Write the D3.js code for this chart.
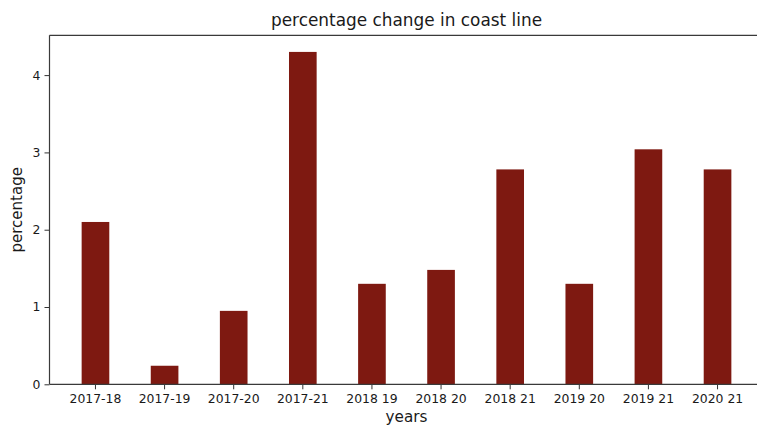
<!DOCTYPE html>
<html>
<head>
<meta charset="utf-8">
<script src="https://cdn.jsdelivr.net/npm/d3@7"></script>
<style>
  html, body { margin: 0; padding: 0; background: #ffffff; }
  svg { display: block; }
  text { font-family: "DejaVu Sans", sans-serif; fill: #1a1a1a; }
</style>
</head>
<body>
<div id="chart"></div>
<script>
// Percentage change in coast line between pairs of years
const years = ["2017-18", "2017-19", "2017-20", "2017-21", "2018 19",
               "2018 20", "2018 21", "2019 20", "2019 21", "2020 21"];
const percentages = [2.10, 0.24, 0.95, 4.30, 1.30, 1.48, 2.78, 1.30, 3.04, 2.78];
const yTicks = [0, 1, 2, 3, 4];

const width = 757, height = 427;
const plot = { left: 49.5, right: 763.5, top: 35.3, bottom: 384.3 };

const svg = d3.select("#chart").append("svg")
  .attr("width", width)
  .attr("height", height);

// bands: bar width is 0.4 of the category step
const x = d3.scaleBand()
  .domain(years)
  .range([plot.left, plot.right])
  .paddingInner(0.6)
  .paddingOuter(0.465);

const y = d3.scaleLinear()
  .domain([0, d3.max(percentages) * 1.05])
  .range([plot.bottom, plot.top]);

// bars
svg.append("g")
  .selectAll("rect")
  .data(percentages)
  .join("rect")
  .attr("x", (d, i) => x(years[i]))
  .attr("y", d => y(d))
  .attr("width", x.bandwidth())
  .attr("height", d => y(0) - y(d))
  .attr("fill", "#7e1911");

// x axis
const xAxis = svg.append("g")
  .attr("transform", `translate(0,${plot.bottom})`)
  .call(d3.axisBottom(x).tickSize(5).tickPadding(5).tickSizeOuter(0));
xAxis.select(".domain").remove();
xAxis.selectAll(".tick line").attr("stroke", "#333").attr("stroke-width", 1);
xAxis.selectAll(".tick text")
  .attr("font-size", "12.4px")
  .attr("font-family", "DejaVu Sans, sans-serif")
  .attr("fill", "#1a1a1a");

// y axis
const yAxis = svg.append("g")
  .attr("transform", `translate(${plot.left},0)`)
  .call(d3.axisLeft(y).tickValues(yTicks).tickFormat(d3.format("d"))
    .tickSize(5).tickPadding(4).tickSizeOuter(0));
yAxis.select(".domain").remove();
yAxis.selectAll(".tick line").attr("stroke", "#333").attr("stroke-width", 1);
yAxis.selectAll(".tick text")
  .attr("font-size", "12.4px")
  .attr("font-family", "DejaVu Sans, sans-serif")
  .attr("fill", "#1a1a1a");

// spines (left, top, bottom)
const spine = svg.append("g")
  .attr("stroke", "#3a3a3a")
  .attr("stroke-width", 1.2)
  .attr("fill", "none");
spine.append("line").attr("x1", plot.left).attr("x2", plot.left)
  .attr("y1", plot.top).attr("y2", plot.bottom);
spine.append("line").attr("x1", plot.left).attr("x2", plot.right)
  .attr("y1", plot.top).attr("y2", plot.top);
spine.append("line").attr("x1", plot.left).attr("x2", plot.right)
  .attr("y1", plot.bottom).attr("y2", plot.bottom);

// title
svg.append("text")
  .attr("x", (plot.left + plot.right) / 2)
  .attr("y", 26)
  .attr("text-anchor", "middle")
  .attr("font-size", "16.9px")
  .text("percentage change in coast line");

// axis labels
svg.append("text")
  .attr("x", (plot.left + plot.right) / 2)
  .attr("y", 422)
  .attr("text-anchor", "middle")
  .attr("font-size", "15.2px")
  .text("years");

svg.append("text")
  .attr("transform", `translate(22,${(plot.top + plot.bottom) / 2}) rotate(-90)`)
  .attr("text-anchor", "middle")
  .attr("font-size", "15px")
  .text("percentage");
</script>
</body>
</html>
